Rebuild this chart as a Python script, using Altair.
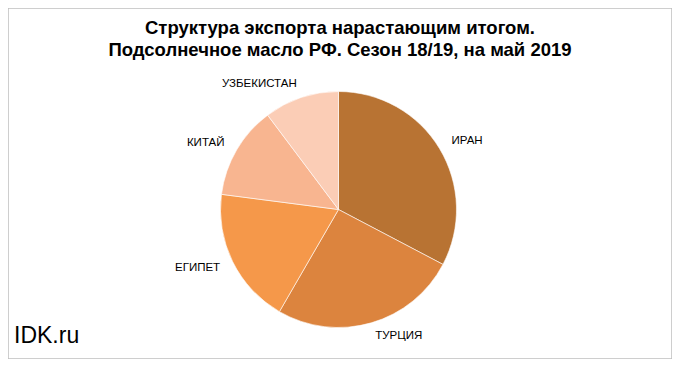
import altair as alt
import pandas as pd

countries = ["ИРАН", "ТУРЦИЯ", "ЕГИПЕТ", "КИТАЙ", "УЗБЕКИСТАН"]
shares = [32.7, 25.65, 18.7, 12.7, 10.25]
colors = ["#B87333", "#DC843E", "#F5984A", "#F8B590", "#FBCDB6"]
title_lines = ["Структура экспорта нарастающим итогом.",
               "Подсолнечное масло РФ. Сезон 18/19, на май 2019"]
watermark = "IDK.ru"

df = pd.DataFrame({"country": countries, "value": shares,
                   "idx": list(range(len(countries)))})

W, H = 664, 351
CX, CY = 330.5, 201.5
R = 118
LR = 132

base = alt.Chart(df).transform_joinaggregate(
    total="sum(value)"
).transform_window(
    cum="sum(value)", sort=[{"field": "idx"}], frame=[None, 0]
).transform_calculate(
    mid="(datum.cum - datum.value / 2) / datum.total"
).encode(
    theta=alt.Theta("value:Q", stack=True),
    order=alt.Order("idx:Q"),
    x=alt.value(CX),
    y=alt.value(CY),
)

pie = base.mark_arc(radius=R, stroke="white", strokeWidth=0.6).encode(
    color=alt.Color("country:N", scale=alt.Scale(domain=countries, range=colors),
                    sort=None, legend=None)
)

lab_font = dict(font="Liberation Sans", fontSize=11.5, color="black",
                radius=LR, baseline="middle")

labels_right = base.mark_text(align="left", **lab_font).encode(
    text="country:N",
    opacity=alt.condition("datum.mid < 0.5", alt.value(1), alt.value(0)),
)
labels_left = base.mark_text(align="right", **lab_font).encode(
    text="country:N",
    opacity=alt.condition("datum.mid >= 0.5", alt.value(1), alt.value(0)),
)

wm = alt.Chart(pd.DataFrame({"t": [watermark]})).mark_text(
    font="Liberation Sans", fontSize=23, align="left", baseline="alphabetic",
    color="black"
).encode(text="t:N", x=alt.value(6), y=alt.value(335))

chart = alt.layer(pie, labels_right, labels_left, wm).properties(
    width=W, height=H,
    title=alt.TitleParams(
        text=title_lines, font="Liberation Sans", fontSize=18.5, fontWeight="bold",
        color="black", anchor="middle", baseline="top", lineHeight=22,
        offset=0, dy=51, dx=0,
    ),
    autosize=alt.AutoSizeParams(type="none"),
    padding=0,
).configure_view(stroke="#BFBFBF", strokeWidth=1.5)

chart.save("out.html", embed_options={"renderer": "svg", "actions": False})
